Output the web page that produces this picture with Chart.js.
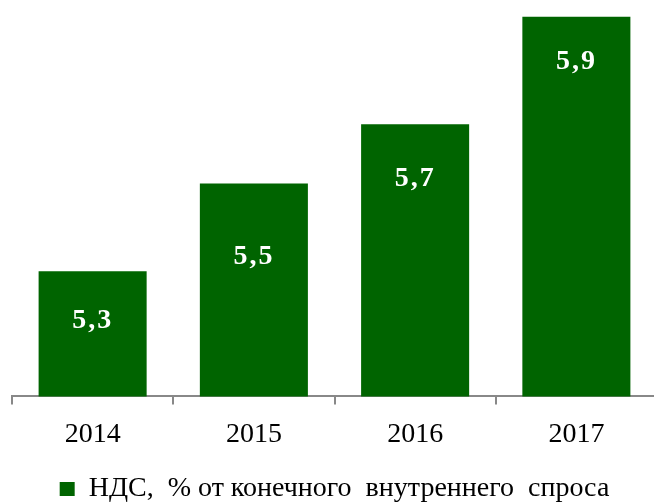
<!DOCTYPE html>
<html>
<head>
<meta charset="utf-8">
<script src="https://cdn.jsdelivr.net/npm/chart.js@4"></script>
<style>
html,body{margin:0;padding:0;background:#fff;overflow:hidden;width:654px;height:502px;}
#wrap{position:absolute;left:0;top:0;width:670px;height:513px;}
</style>
</head>
<body>
<div id="wrap"><canvas id="c"></canvas></div>
<script>
const categories = ['2014', '2015', '2016', '2017'];
const seriesName = 'НДС,  % от конечного  внутреннего  спроса';
const vatValues = [5.3, 5.51, 5.652, 5.91];

const labelOffsets = [50, 73, 54, 45];
const FONT = '"Liberation Serif", "Times New Roman", serif';

const valueLabels = {
  id: 'valueLabels',
  afterDatasetsDraw(chart) {
    const ctx = chart.ctx;
    const meta = chart.getDatasetMeta(0);
    ctx.save();
    ctx.fillStyle = '#ffffff';
    ctx.font = 'bold 28px ' + FONT;
    ctx.letterSpacing = '2px';
    ctx.textAlign = 'center';
    ctx.textBaseline = 'middle';
    meta.data.forEach((bar, i) => {
      const v = chart.data.datasets[0].data[i];
      const txt = (Math.round(v * 10) / 10).toFixed(1).replace('.', ',');
      ctx.fillText(txt, bar.x, bar.y + labelOffsets[i]);
    });
    ctx.restore();
  }
};

new Chart(document.getElementById('c'), {
  type: 'bar',
  data: {
    labels: categories,
    datasets: [{
      label: seriesName,
      data: vatValues,
      backgroundColor: '#006400',
      borderWidth: 0,
      categoryPercentage: 1,
      barPercentage: 0.67
    }]
  },
  options: {
    responsive: true,
    maintainAspectRatio: false,
    animation: false,
    layout: { padding: { left: 12, right: 13, top: 0, bottom: 0 } },
    plugins: {
      legend: {
        position: 'bottom',
        labels: {
          color: '#000',
          font: { family: FONT, size: 28 },
          boxWidth: 15,
          boxHeight: 14,
          padding: 6
        }
      },
      tooltip: { enabled: false }
    },
    scales: {
      y: { display: false, min: 5, max: 5.95 },
      x: {
        offset: true,
        afterFit(scale) { scale.height += 5; },
        grid: {
          offset: true,
          drawOnChartArea: false,
          color: '#888888',
          lineWidth: 2,
          tickLength: 8
        },
        border: { color: '#888888', width: 2 },
        ticks: {
          color: '#000',
          font: { family: FONT, size: 28 },
          padding: 13
        }
      }
    }
  },
  plugins: [valueLabels]
});
</script>
</body>
</html>
